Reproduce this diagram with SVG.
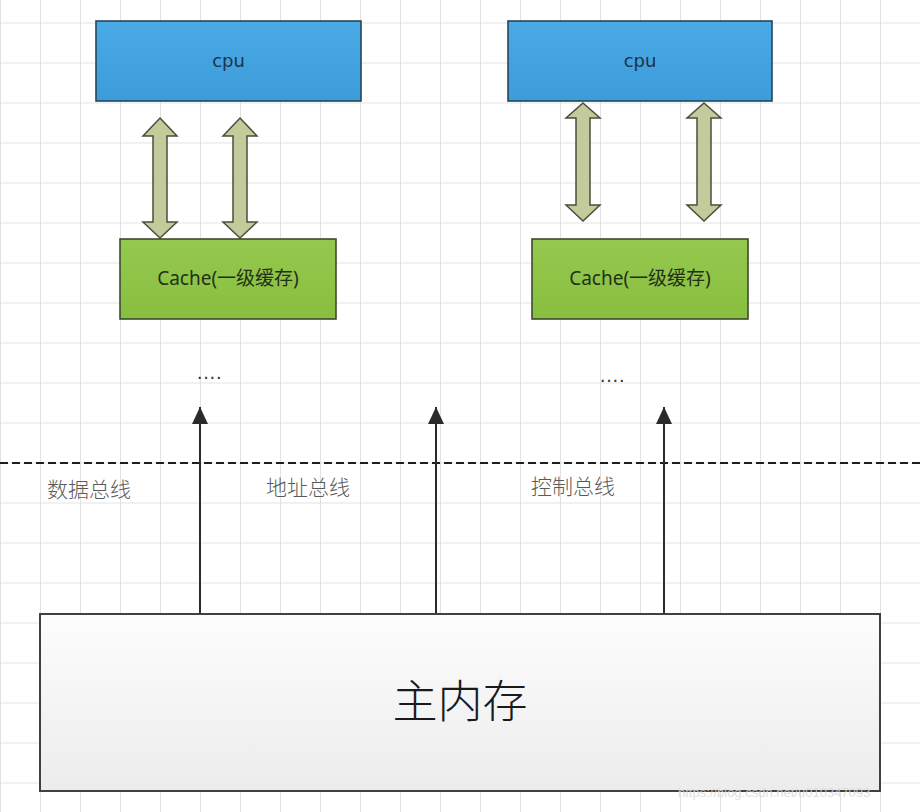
<svg xmlns="http://www.w3.org/2000/svg" width="920" height="812" viewBox="0 0 920 812">
  <defs>
    <pattern id="grid" patternUnits="userSpaceOnUse" x="0" y="22.5" width="40" height="40">
      <path d="M0,0 H40 M0,0 V40" fill="none" stroke="#dadada" stroke-width="1.6"/>
    </pattern>
    <linearGradient id="gCpu" x1="0" y1="0" x2="0" y2="1">
      <stop offset="0" stop-color="#4aaae6"/>
      <stop offset="1" stop-color="#3c9cd9"/>
    </linearGradient>
    <linearGradient id="gCache" x1="0" y1="0" x2="0" y2="1">
      <stop offset="0" stop-color="#95c84e"/>
      <stop offset="1" stop-color="#88bf40"/>
    </linearGradient>
    <linearGradient id="gMem" x1="0" y1="0" x2="0" y2="1">
      <stop offset="0" stop-color="#fdfdfd"/>
      <stop offset="1" stop-color="#ececec"/>
    </linearGradient>
    <marker id="up" markerWidth="17" markerHeight="16" refX="17" refY="8" orient="auto" markerUnits="userSpaceOnUse" viewBox="0 0 17 16">
      <path d="M17,8 L0,0 L0,16 Z" fill="#2b2b2b"/>
    </marker>
    <style>
      .cpu { fill: url(#gCpu); stroke: #2a4558; stroke-width: 1.6; }
      .cache { fill: url(#gCache); stroke: #3d4a30; stroke-width: 1.6; }
      .dbl { fill: #c3ca9b; stroke: #4b4d3c; stroke-width: 1.5; stroke-linejoin: miter; }
      .lbl-cpu { font-family: "DejaVu Sans", "Noto Sans", sans-serif; font-size: 18px; fill: #1d3346; text-anchor: middle; }
      .lbl-cache { font-family: "Noto Sans", "Noto Sans CJK SC", sans-serif; font-size: 19px; fill: #233018; text-anchor: middle; }
      .bus { stroke: #2b2b2b; stroke-width: 2; fill: none; }
      .buslbl { font-family: "Noto Sans CJK SC", sans-serif; font-size: 21px; font-weight: 300; fill: #5a5a5a; }
      .dots { font-family: "Liberation Sans", sans-serif; font-size: 20px; fill: #333; }
    </style>
  </defs>

  <rect x="0" y="0" width="920" height="812" fill="#ffffff"/>
  <rect x="0" y="0" width="920" height="812" fill="url(#grid)"/>

  <g id="cpu-left">
    <rect class="cpu" x="96" y="21" width="265" height="80"/>
    <text class="lbl-cpu" x="228.5" y="67">cpu</text>
  </g>
  <g id="cpu-right">
    <rect class="cpu" x="508" y="21" width="264" height="80"/>
    <text class="lbl-cpu" x="640" y="67">cpu</text>
  </g>

  <g id="cache-left">
    <rect class="cache" x="120" y="239" width="216" height="80"/>
    <text class="lbl-cache" x="228" y="285">Cache(一级缓存)</text>
  </g>
  <g id="cache-right">
    <rect class="cache" x="532" y="239" width="216" height="80"/>
    <text class="lbl-cache" x="640" y="285">Cache(一级缓存)</text>
  </g>

  <g id="main-memory">
    <rect x="40" y="614" width="840" height="177" fill="url(#gMem)" stroke="#404040" stroke-width="2"/>
    <text x="460" y="718" font-family="Noto Sans CJK SC, sans-serif" font-size="45" font-weight="300" fill="#1a1a1a" text-anchor="middle">主内存</text>
  </g>

  <g id="connectors">
    <path class="dbl" d="M160,118 L177,136 L167,136 L167,222 L177,222 L160,238 L143,222 L153,222 L153,136 L143,136 Z"/>
    <path class="dbl" d="M240,118 L257,136 L247,136 L247,222 L257,222 L240,238 L223,222 L233,222 L233,136 L223,136 Z"/>
    <path class="dbl" d="M583,103 L600,118 L590,118 L590,205 L600,205 L583,221 L566,205 L576,205 L576,118 L566,118 Z"/>
    <path class="dbl" d="M704,103 L721,118 L711,118 L711,205 L721,205 L704,221 L687,205 L697,205 L697,118 L687,118 Z"/>

    <line x1="0" y1="463" x2="920" y2="463" stroke="#1e1e1e" stroke-width="2" stroke-dasharray="8,4"/>

    <line class="bus" x1="200" y1="613" x2="200" y2="407" marker-end="url(#up)"/>
    <line class="bus" x1="436" y1="613" x2="436" y2="407" marker-end="url(#up)"/>
    <line class="bus" x1="664" y1="613" x2="664" y2="407" marker-end="url(#up)"/>
  </g>

  <g id="labels">
    <text class="dots" x="196" y="379">….</text>
    <text class="dots" x="599" y="382">….</text>
    <text class="buslbl" x="47" y="497">数据总线</text>
    <text class="buslbl" x="266" y="495">地址总线</text>
    <text class="buslbl" x="531" y="494">控制总线</text>
  </g>

  <text x="678" y="797" font-family="Liberation Sans, sans-serif" font-size="13" fill="#d8d8d8" opacity="0.8">https://blog.csdn.net/u010347093</text>
</svg>
